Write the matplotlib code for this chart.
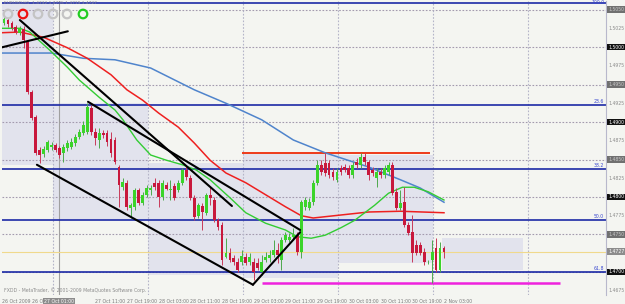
import numpy as np
import matplotlib.pyplot as plt
from matplotlib.patches import Rectangle

# ------------------------------------------------------------
# EURUSD H1 candles, bar 0 = first visible bar (26 Oct 2009)
# ------------------------------------------------------------
opens = [1.5032, 1.5036, 1.5032, 1.5027, 1.5019, 1.5024, 1.5007, 1.4940, 1.4907, 1.4863,
         1.4857, 1.4863, 1.4867, 1.4869, 1.4865, 1.4859, 1.4865, 1.4867, 1.4872, 1.4880,
         1.4885, 1.4887, 1.4919, 1.4887, 1.4876, 1.4885, 1.4885, 1.4877, 1.4876, 1.4840,
         1.4813, 1.4819, 1.4785, 1.4787, 1.4809, 1.4792, 1.4803, 1.4809, 1.4819, 1.4819,
         1.4800, 1.4816, 1.4809, 1.4815, 1.4809, 1.4819, 1.4836, 1.4825, 1.4799, 1.4775,
         1.4788, 1.4779, 1.4803, 1.4796, 1.4769, 1.4763, 1.4720, 1.4725, 1.4719, 1.4713,
         1.4713, 1.4720, 1.4713, 1.4713, 1.4712, 1.4700, 1.4716, 1.4719, 1.4723, 1.4729,
         1.4716, 1.4743, 1.4743, 1.4747, 1.4749, 1.4727, 1.4787, 1.4785, 1.4793, 1.4819,
         1.4843, 1.4845, 1.4845, 1.4833, 1.4823, 1.4839, 1.4840, 1.4839, 1.4829, 1.4847,
         1.4843, 1.4853, 1.4847, 1.4836, 1.4825, 1.4833, 1.4829, 1.4833, 1.4843, 1.4807,
         1.4785, 1.4793, 1.4763, 1.4753, 1.4736, 1.4736, 1.4727, 1.4713, 1.4716, 1.4732,
         1.4703, 1.4732]
highs = [1.5041, 1.5039, 1.5035, 1.5029, 1.5028, 1.5028, 1.5009, 1.4943, 1.4909, 1.4867,
         1.4868, 1.4876, 1.4873, 1.4872, 1.4868, 1.4871, 1.4876, 1.4879, 1.4884, 1.4891,
         1.4901, 1.4925, 1.4923, 1.4892, 1.4892, 1.4889, 1.4889, 1.4887, 1.4880, 1.4843,
         1.4825, 1.4823, 1.4792, 1.4812, 1.4812, 1.4807, 1.4816, 1.4816, 1.4825, 1.4823,
         1.4823, 1.4820, 1.4823, 1.4819, 1.4823, 1.4839, 1.4843, 1.4829, 1.4803, 1.4792,
         1.4792, 1.4805, 1.4813, 1.4800, 1.4772, 1.4767, 1.4745, 1.4732, 1.4723, 1.4719,
         1.4729, 1.4725, 1.4725, 1.4719, 1.4719, 1.4723, 1.4727, 1.4729, 1.4743, 1.4739,
         1.4747, 1.4753, 1.4752, 1.4759, 1.4753, 1.4796, 1.4800, 1.4799, 1.4823, 1.4849,
         1.4849, 1.4859, 1.4849, 1.4839, 1.4839, 1.4843, 1.4844, 1.4843, 1.4847, 1.4852,
         1.4859, 1.4859, 1.4849, 1.4840, 1.4839, 1.4839, 1.4843, 1.4847, 1.4847, 1.4812,
         1.4809, 1.4813, 1.4767, 1.4776, 1.4743, 1.4740, 1.4732, 1.4716, 1.4743, 1.4745,
         1.4740, 1.4735]
lows = [1.5029, 1.5027, 1.5023, 1.5017, 1.5016, 1.4999, 1.4937, 1.4903, 1.4856, 1.4845,
        1.4853, 1.4860, 1.4863, 1.4860, 1.4852, 1.4847, 1.4861, 1.4864, 1.4868, 1.4877,
        1.4883, 1.4884, 1.4883, 1.4869, 1.4865, 1.4879, 1.4868, 1.4853, 1.4844, 1.4787,
        1.4809, 1.4783, 1.4772, 1.4783, 1.4789, 1.4789, 1.4800, 1.4803, 1.4809, 1.4787,
        1.4796, 1.4809, 1.4796, 1.4796, 1.4807, 1.4816, 1.4823, 1.4796, 1.4769, 1.4772,
        1.4756, 1.4776, 1.4789, 1.4767, 1.4756, 1.4709, 1.4719, 1.4713, 1.4709, 1.4700,
        1.4709, 1.4709, 1.4709, 1.4689, 1.4703, 1.4696, 1.4713, 1.4713, 1.4720, 1.4712,
        1.4703, 1.4740, 1.4740, 1.4743, 1.4723, 1.4719, 1.4783, 1.4783, 1.4789, 1.4816,
        1.4829, 1.4828, 1.4825, 1.4823, 1.4820, 1.4829, 1.4833, 1.4825, 1.4825, 1.4839,
        1.4839, 1.4843, 1.4823, 1.4828, 1.4813, 1.4825, 1.4825, 1.4829, 1.4803, 1.4783,
        1.4783, 1.4760, 1.4749, 1.4713, 1.4723, 1.4723, 1.4709, 1.4711, 1.4685, 1.4700,
        1.4700, 1.4719]
closes = [1.5037, 1.5031, 1.5025, 1.5020, 1.5025, 1.5009, 1.4940, 1.4905, 1.4859, 1.4856,
          1.4864, 1.4873, 1.4869, 1.4863, 1.4856, 1.4867, 1.4872, 1.4873, 1.4880, 1.4887,
          1.4896, 1.4920, 1.4887, 1.4879, 1.4885, 1.4883, 1.4873, 1.4859, 1.4847, 1.4816,
          1.4820, 1.4787, 1.4789, 1.4809, 1.4792, 1.4803, 1.4812, 1.4812, 1.4813, 1.4800,
          1.4819, 1.4811, 1.4811, 1.4799, 1.4819, 1.4836, 1.4827, 1.4799, 1.4773, 1.4789,
          1.4780, 1.4803, 1.4799, 1.4769, 1.4760, 1.4716, 1.4725, 1.4716, 1.4713, 1.4703,
          1.4721, 1.4712, 1.4720, 1.4700, 1.4705, 1.4713, 1.4720, 1.4723, 1.4729, 1.4723,
          1.4743, 1.4749, 1.4747, 1.4749, 1.4727, 1.4793, 1.4796, 1.4793, 1.4819, 1.4843,
          1.4833, 1.4832, 1.4829, 1.4827, 1.4833, 1.4833, 1.4836, 1.4829, 1.4843, 1.4843,
          1.4853, 1.4847, 1.4829, 1.4832, 1.4833, 1.4829, 1.4839, 1.4843, 1.4805, 1.4785,
          1.4792, 1.4763, 1.4752, 1.4725, 1.4725, 1.4725, 1.4713, 1.4713, 1.4727, 1.4703,
          1.4732, 1.4727]

# moving averages at a few bars
blue_ma_x = [-1, 12, 20, 28, 37, 48, 56, 65, 73, 81, 92, 100, 105, 111]
blue_ma = [1.4992, 1.4992, 1.4985, 1.4983, 1.4972, 1.4943, 1.4925, 1.4903, 1.4876,
           1.4859, 1.4840, 1.4823, 1.4812, 1.4793]
red_ma_x = [-1, 4, 10, 16, 21, 27, 31, 35, 39, 44, 48, 52, 56, 61, 66, 71, 75, 78, 85,
            92, 100, 111]
red_ma = [1.5019, 1.5020, 1.5013, 1.4999, 1.4985, 1.4963, 1.4943, 1.4929, 1.4912, 1.4893,
          1.4872, 1.4849, 1.4832, 1.4819, 1.4803, 1.4787, 1.4775, 1.4772, 1.4776, 1.4780,
          1.4781, 1.4779]
green_ma_x = [-1, 4, 6.5, 11.5, 16, 19, 24, 28, 30, 33.5, 37, 41, 45, 48.5, 52, 57, 61,
              66, 71, 74, 77.5, 81, 85, 88.5, 93.5, 97, 100.5, 103.5, 107, 111]
green_ma = [1.5025, 1.5025, 1.5020, 1.4996, 1.4973, 1.4956, 1.4933, 1.4916, 1.4903,
            1.4876, 1.4856, 1.4849, 1.4843, 1.4836, 1.4823, 1.4799, 1.4779, 1.4765,
            1.4756, 1.4747, 1.4745, 1.4749, 1.4759, 1.4769, 1.4789, 1.4805, 1.4813,
            1.4813, 1.4807, 1.4796]

# hand drawn trend lines (bar, price) pairs
trend_x = [(-1.0, 16.1), (4.0, 57.5), (21.2, 74.7), (8.3, 62.8), (62.8, 74.7)]
trend_p = [(1.4999, 1.5021), (1.5036, 1.4788), (1.4927, 1.4756), (1.4843, 1.4683),
           (1.4683, 1.4753)]

# daily range boxes
box_x0 = [-1.0, 12.4, 36.3, 60.3, 84.3, 110.5]
box_x1 = [12.4, 36.3, 60.3, 84.3, 108.2, 130.9]
box_top = [1.5060, 1.4925, 1.4845, 1.4859, 1.4856, 1.4745]
box_bot = [1.4843, 1.4769, 1.4696, 1.4692, 1.4712, 1.4703]

fib_names = ["100.0", "23.6", "38.2", "50.0", "61.8"]
fib_prices = [1.5059, 1.4923, 1.4837, 1.4769, 1.4700]

round_prices = [1.5050, 1.5000, 1.4950, 1.4900, 1.4850, 1.4800, 1.4750, 1.4700]
axis_prices = [1.5050, 1.5025, 1.5000, 1.4975, 1.4950, 1.4925, 1.4900, 1.4875,
               1.4850, 1.4825, 1.4800, 1.4775, 1.4750, 1.4700, 1.4675]
day_lines = [12.4, 36.3, 60.3, 84.3, 108.2, 132.2]

time_idx = [-0.4, 7, 23, 31, 39, 47, 55, 63, 71, 79, 87, 95, 103, 111]
time_lbl = ["26 Oct 2009", "26 Oct 19:00", "27 Oct 11:00", "27 Oct 19:00",
            "28 Oct 03:00", "28 Oct 11:00", "28 Oct 19:00", "29 Oct 03:00",
            "29 Oct 11:00", "29 Oct 19:00", "30 Oct 03:00", "30 Oct 11:00",
            "30 Oct 19:00", "2 Nov 03:00"]

bid = 1.4727
red_level, red_from, red_to = 1.4859, 60.0, 107.5
pink_level, pink_from, pink_to = 1.4685, 65.1, 140.3
cross_bar = 13.9

BG = "#f4f5f1"
FS = 3.3

# ------------------------------------------------------------
fig = plt.figure(figsize=(6.25, 3.04), dpi=100, facecolor=BG)
ax = fig.add_axes([2 / 625, 9 / 304, 604 / 625, 294 / 304], facecolor=BG)
ax.set_xlim(-0.505, 151.87)
ax.set_ylim(1.46693, 1.50614)

# daily boxes
for x0, x1, t, b in zip(box_x0, box_x1, box_top, box_bot):
    ax.add_patch(Rectangle((x0, b), x1 - x0, t - b, facecolor="#e2e3ed",
                           edgecolor="none", zorder=1))

# dotted grid
for p in round_prices:
    ax.axhline(p, color="#a39aae", lw=0.8, ls=(0, (1.5, 1.5)), zorder=2)
for d in day_lines:
    ax.axvline(d, color="#b4b4c8", lw=0.8, ls=(0, (1.5, 1.5)), zorder=2)
ax.axvline(cross_bar, color="#a0a0a0", lw=0.8, zorder=2)

# fibonacci levels (the top one has its label on the line, there is no room above)
for name, p in zip(fib_names, fib_prices):
    ax.axhline(p, color="#1c2aa6", lw=1.2, zorder=2)
    top = p == max(fib_prices)
    ax.text(0.997, p if top else p + 0.00012, name, transform=ax.get_yaxis_transform(),
            ha="right", va="center" if top else "bottom", fontsize=FS,
            color="#3a48d0", zorder=6)

ax.axhline(bid, color="#f0d98c", lw=0.8, zorder=2)
ax.hlines(red_level, red_from, red_to, color="#ee3a1a", lw=1.4, zorder=3)
ax.hlines(pink_level, pink_from, pink_to, color="#ee22dd", lw=1.8, zorder=3)

# moving averages
ax.plot(blue_ma_x, blue_ma, color="#4f84cc", lw=1.1, zorder=4)
ax.plot(red_ma_x, red_ma, color="#ee2020", lw=1.1, zorder=4)
ax.plot(green_ma_x, green_ma, color="#33cc33", lw=1.0, zorder=4)

# candles
o = np.array(opens)
h = np.array(highs)
l = np.array(lows)
c = np.array(closes)
idx = np.arange(len(o))
up = c >= o
ax.vlines(idx[up], l[up], h[up], color="#4da84d", lw=0.7, zorder=5)
ax.vlines(idx[~up], l[~up], h[~up], color="#c83a5a", lw=0.7, zorder=5)
body = np.maximum(np.abs(c - o), 0.00008)
ax.bar(idx[up], body[up], bottom=o[up], width=0.72, color="#3bd42a", zorder=6)
ax.bar(idx[~up], body[~up], bottom=c[~up], width=0.72, color="#c8183c", zorder=6)

# trend lines
for xs, ps in zip(trend_x, trend_p):
    ax.plot(xs, ps, color="black", lw=1.5, solid_capstyle="round", zorder=7)

# axes look
for side in ["top", "bottom", "left"]:
    ax.spines[side].set_visible(False)
ax.spines["right"].set_color("#b8b8cc")
ax.spines["right"].set_linewidth(0.8)
ax.set_xticks([])
ax.set_yticks([])

# price scale
for p in axis_prices:
    kw = dict(transform=ax.get_yaxis_transform(), ha="left", va="center",
              fontsize=FS, zorder=8, clip_on=False)
    if round(p * 10000) % 100 == 0:
        ax.text(1.004, p, f"{p:.4f}", color="white",
                bbox=dict(boxstyle="square,pad=0.2", fc="#111111", ec="none"), **kw)
    elif round(p * 10000) % 50 == 0:
        ax.text(1.004, p, f"{p:.4f}", color="#c8c8c8",
                bbox=dict(boxstyle="square,pad=0.2", fc="#707070", ec="none"), **kw)
    else:
        ax.text(1.004, p, f"{p:.4f}", color="#8a8a8a", **kw)
ax.text(1.004, bid, f"{bid:.4f}", transform=ax.get_yaxis_transform(), ha="left",
        va="center", fontsize=FS, color="white", clip_on=False, zorder=9,
        bbox=dict(boxstyle="square,pad=0.2", fc="#8c8c8c", ec="none"))

# time scale
for i, lab in zip(time_idx, time_lbl):
    ax.text(i, -0.012, lab, transform=ax.get_xaxis_transform(), ha="left", va="top",
            fontsize=FS, color="#7a7a7a", clip_on=False)
ax.text(cross_bar, -0.012, "27 Oct 01:00", transform=ax.get_xaxis_transform(),
        ha="center", va="top", fontsize=FS, color="white", clip_on=False, zorder=9,
        bbox=dict(boxstyle="square,pad=0.2", fc="#8c8c8c", ec="none"))

# header, icons and copyright
fig.text(4 / 625, 1 - 3 / 304, "EURUSD,H1  1.4732 1.4735 1.4719 1.4727",
         fontsize=3.2, color="#8a8a9a", va="center")
icon_x = [8, 23, 38, 53, 67, 83]
icon_c = ["#c4c4c4", "#ee1111", "#c4c4c4", "#c4c4c4", "#c4c4c4", "#22cc22"]
for px, col in zip(icon_x, icon_c):
    ax.scatter([(px - 2) / 604], [(295 - 14) / 294], s=38, facecolors="none",
               edgecolors=col, linewidths=1.6, transform=ax.transAxes, zorder=9,
               clip_on=False)
ax.text(0.003, (295 - 290) / 294, "FXDD - MetaTrader, \u00a9 2001-2009 MetaQuotes Software Corp.",
        transform=ax.transAxes, fontsize=FS, color="#8c8c8c", va="center", zorder=9)

fig.savefig("out.png", dpi=100, facecolor=BG)
